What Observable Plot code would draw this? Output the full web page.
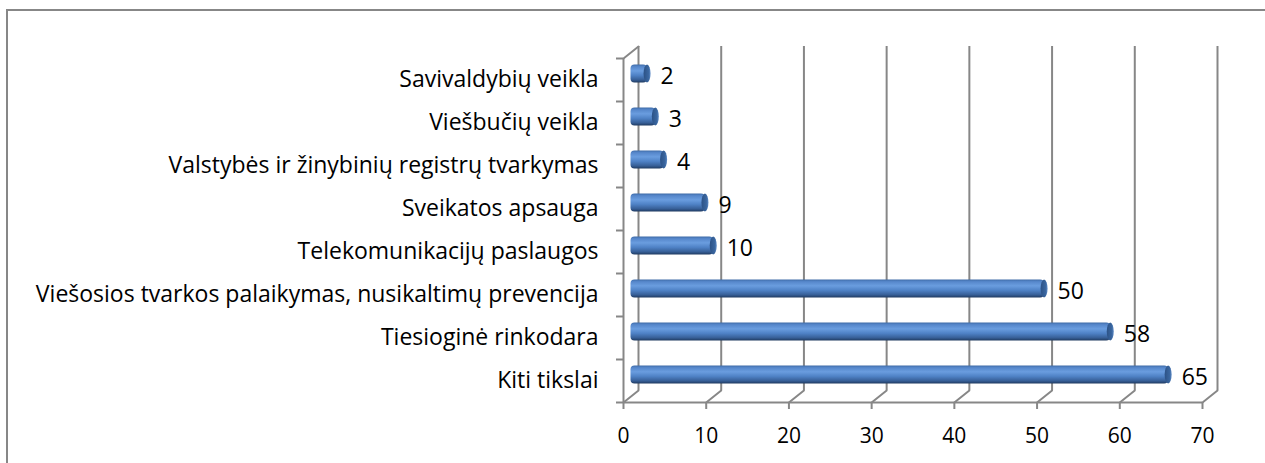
<!DOCTYPE html>
<html><head><meta charset="utf-8">
<script src="https://cdn.jsdelivr.net/npm/d3@7"></script>
<script src="https://cdn.jsdelivr.net/npm/@observablehq/plot@0.6"></script>
<style>
body{margin:0;background:#fff;}
#wrap{position:relative;width:1265px;height:463px;overflow:hidden;background:#fff;}
#wrap svg{position:absolute;left:0;top:0;}
#border{position:absolute;left:6px;top:9px;right:-10px;bottom:-10px;border-left:2px solid #878787;border-top:2px solid #878787;pointer-events:none;}
</style></head><body><div id="wrap"><div id="border"></div></div>
<script>
const categories = [
  "Savivaldybių veikla",
  "Viešbučių veikla",
  "Valstybės ir žinybinių registrų tvarkymas",
  "Sveikatos apsauga",
  "Telekomunikacijų paslaugos",
  "Viešosios tvarkos palaikymas, nusikaltimų prevencija",
  "Tiesioginė rinkodara",
  "Kiti tikslai"
];
const values = [2, 3, 4, 9, 10, 50, 58, 65];
const xTicks = [0, 10, 20, 30, 40, 50, 60, 70];

const data = categories.map((name, i) => ({name, value: values[i]}));
const gray = "#878787";
const ns = "http://www.w3.org/2000/svg";

function defsMark() {
  const defs = document.createElementNS(ns, "defs");
  defs.innerHTML = `
    <linearGradient id="barGrad" x1="0" y1="0" x2="0" y2="1">
      <stop offset="0" stop-color="#3f6ca8"/>
      <stop offset="0.12" stop-color="#5687cb"/>
      <stop offset="0.35" stop-color="#6a9ddf"/>
      <stop offset="0.6" stop-color="#4f82c6"/>
      <stop offset="0.85" stop-color="#375f97"/>
      <stop offset="1" stop-color="#1f3a60"/>
    </linearGradient>
    <linearGradient id="capGrad" x1="0" y1="0" x2="1" y2="0">
      <stop offset="0" stop-color="#2c5286"/>
      <stop offset="0.7" stop-color="#3a669f"/>
      <stop offset="1" stop-color="#5a88c4"/>
    </linearGradient>`;
  return defs;
}

const diagShape = {draw(context, l) { context.moveTo(0, 0); context.lineTo(0, -l); }};
const depthLen = Math.hypot(15, 12);
const depthAngle = Math.atan2(15, 12) * 180 / Math.PI;

const chart = Plot.plot({
  width: 1265, height: 463,
  marginLeft: 623, marginRight: 63, marginTop: 58, marginBottom: 61,
  style: {fontFamily: "'Open Sans', sans-serif", fontSize: "20px", background: "transparent", color: "black", overflow: "visible"},
  x: {domain: [0, 70], axis: null},
  y: {domain: categories, type: "band", padding: 0, axis: null},
  marks: [
    defsMark,
    Plot.ruleX(xTicks, {x: d => d, dx: 15, dy: -12, stroke: gray, strokeWidth: 2}),
    Plot.ruleX([0], {x: d => d, stroke: gray, strokeWidth: 2}),
    Plot.ruleY([categories[categories.length - 1]], {y: d => d, dy: 21.5, insetLeft: -7, stroke: gray, strokeWidth: 2}),
    Plot.vector(xTicks, {x: d => d, frameAnchor: "bottom", length: depthLen, rotate: depthAngle, anchor: "start", shape: diagShape, stroke: gray, strokeWidth: 2}),
    Plot.vector([0], {x: d => d, frameAnchor: "top", length: depthLen, rotate: depthAngle, anchor: "start", shape: diagShape, stroke: gray, strokeWidth: 2}),
    Plot.axisY({tickSize: 7, tickFormat: () => "", dy: -21.5, stroke: gray, strokeWidth: 2, label: null}),
    Plot.axisY({tickSize: 0, tickPadding: 25, fontSize: 23, label: null}),
    Plot.axisX({ticks: xTicks, tickSize: 7, tickPadding: 19, fontSize: 21, stroke: gray, strokeWidth: 2, label: null, tickFormat: d => String(d)}),
    Plot.barX(data, {x: "value", y: "name", fill: "url(#barGrad)", insetTop: 12.5, insetBottom: 12.5, rx: 4, ry: 4, dx: 7.5, dy: -6}),
    Plot.barX(data, {x1: "value", x2: "value", y: "name", fill: "url(#capGrad)", insetLeft: -3.5, insetRight: -3.5, insetTop: 12.5, insetBottom: 12.5, rx: 3.5, ry: 9, dx: 7.5, dy: -6}),
    Plot.text(data, {x: "value", y: "name", text: d => String(d.value), textAnchor: "start", dx: 20.5, dy: -3.5, fontSize: 23})
  ]
});
document.getElementById("wrap").insertBefore(chart, document.getElementById("border"));
</script>
</body></html>
